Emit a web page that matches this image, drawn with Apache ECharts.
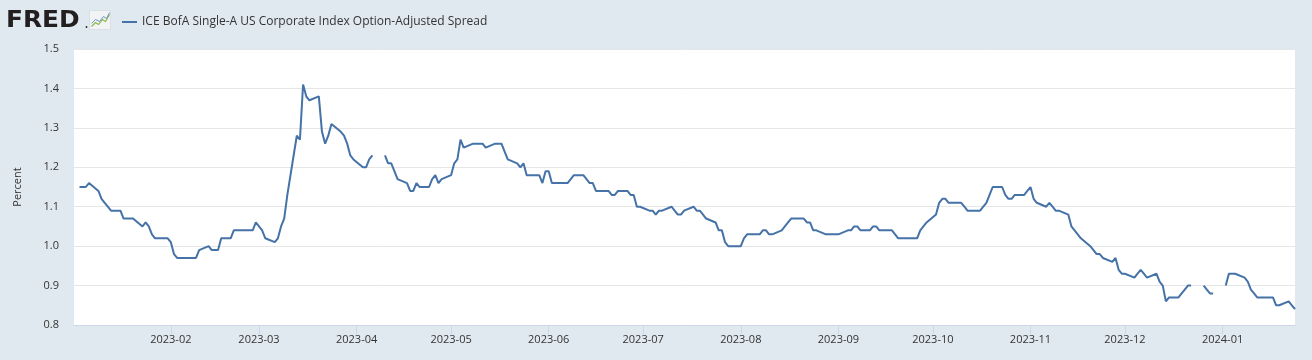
<!DOCTYPE html>
<html>
<head>
<meta charset="utf-8">
<script src="https://cdn.jsdelivr.net/npm/echarts@6/dist/echarts.min.js"></script>
<style>
  html, body { margin: 0; padding: 0; background: #e1e9f0; }
  #chart { width: 1312px; height: 360px; }
</style>
</head>
<body>
<div id="chart"></div>
<script>
// ---- Data (ICE BofA Single-A US Corporate Index OAS, percent, business days) ----
const seriesName = 'ICE BofA Single-A US Corporate Index Option-Adjusted Spread';
const yTicks = [0.8, 0.9, 1.0, 1.1, 1.2, 1.3, 1.4, 1.5];
const axisStart = [2023, 1, 1, 6];   // year, month, day, hour
const axisEnd = [2024, 1, 24, 0];

// month start (first listed weekday) -> values for each consecutive weekday of that month
const monthStarts = ['2023-01-03','2023-02-01','2023-03-01','2023-04-03','2023-05-01','2023-06-01',
                     '2023-07-03','2023-08-01','2023-09-01','2023-10-02','2023-11-01','2023-12-01','2024-01-01'];
const jan23 = [1.15,1.15,1.15,1.16, 1.14,1.12,1.11,1.10,1.09, 1.09,1.07,1.07,1.07,1.07, 1.05,1.06,1.05,1.03,1.02, 1.02,1.02];
const feb23 = [1.01,0.98,0.97, 0.97,0.97,0.97,0.97,0.99, 1.00,0.99,0.99,0.99,1.02, 1.02,1.04,1.04,1.04,1.04, 1.04,1.06];
const mar23 = [1.05,1.04,1.02, 1.01,1.02,1.05,1.07,1.13, 1.28,1.27,1.41,1.38,1.37, 1.38,1.29,1.26,1.28,1.31, 1.29,1.28,1.26,1.23,1.22];
const apr23 = [1.20,1.20,1.22,1.23,null, 1.23,1.21,1.21,1.19,1.17, 1.16,1.14,1.14,1.16,1.15, 1.15,1.17,1.18,1.16,1.17];
const may23 = [1.18,1.21,1.22,1.27,1.25, 1.26,1.26,1.26,1.26,1.25, 1.26,1.26,1.26,1.24,1.22, 1.21,1.20,1.21,1.18,1.18, 1.18,1.16,1.19];
const jun23 = [1.19,1.16, 1.16,1.16,1.16,1.17,1.18, 1.18,1.17,1.16,1.16,1.14, 1.14,1.14,1.13,1.13,1.14, 1.14,1.13,1.13,1.10,1.10];
const jul23 = [1.09,1.09,1.08,1.09,1.09, 1.10,1.09,1.08,1.08,1.09, 1.10,1.09,1.09,1.08,1.07, 1.06,1.04,1.04,1.01,1.00, 1.00];
const aug23 = [1.00,1.02,1.03,1.03, 1.03,1.04,1.04,1.03,1.03, 1.04,1.05,1.06,1.07,1.07, 1.07,1.06,1.06,1.04,1.04, 1.03,1.03,1.03,1.03];
const sep23 = [1.03, 1.04,1.04,1.05,1.05,1.04, 1.04,1.05,1.05,1.04,1.04, 1.04,1.03,1.02,1.02,1.02, 1.02,1.02,1.04,1.05,1.06];
const oct23 = [1.08,1.11,1.12,1.12,1.11, 1.11,1.11,1.10,1.09,1.09, 1.09,1.10,1.11,1.13,1.15, 1.15,1.13,1.12,1.12,1.13, 1.13,1.14];
const nov23 = [1.15,1.12,1.11, 1.10,1.11,1.10,1.09,1.09, 1.08,1.05,1.04,1.03,1.02, 1.00,0.99,0.98,0.98,0.97, 0.96,0.97,0.94,0.93];
const dec23 = [0.93, 0.92,0.93,0.94,0.93,0.92, 0.93,0.91,0.90,0.86,0.87, 0.87,0.88,0.89,0.90,0.90, null,0.90,0.89,0.88,0.88];
const jan24 = [null,0.90,0.93,0.93,0.93, 0.92,0.91,0.89,0.88,0.87, 0.87,0.87,0.87,0.85,0.85, 0.86,0.85,0.84];
const monthValues = [jan23, feb23, mar23, apr23, may23, jun23, jul23, aug23, sep23, oct23, nov23, dec23, jan24];

// ---- Build [date, value] pairs: consecutive weekdays from each month start ----
function pad(n) { return (n < 10 ? '0' : '') + n; }
const points = [];
monthStarts.forEach(function (start, mi) {
  const p = start.split('-').map(Number);
  const d = new Date(p[0], p[1] - 1, p[2]);
  monthValues[mi].forEach(function (v) {
    while (d.getDay() === 0 || d.getDay() === 6) d.setDate(d.getDate() + 1);
    const ds = d.getFullYear() + '-' + pad(d.getMonth() + 1) + '-' + pad(d.getDate());
    points.push([ds, v === null ? '-' : v]);
    d.setDate(d.getDate() + 1);
  });
});

const FONT = "'Open Sans', 'Liberation Sans', sans-serif";
const chart = echarts.init(document.getElementById('chart'), null, { renderer: 'canvas' });
chart.setOption({
  animation: false,
  backgroundColor: '#e1e9f0',
  textStyle: { fontFamily: FONT },
  grid: { left: 74, right: 17, top: 49, bottom: 35, show: true, backgroundColor: '#ffffff', borderWidth: 0 },
  legend: {
    left: 117, top: 11, icon: 'rect', itemWidth: 15, itemHeight: 2,
    textStyle: { fontFamily: FONT, fontSize: 12, color: '#333333' },
    data: [seriesName]
  },
  graphic: [
    {
      type: 'text', left: 6, top: 10, scaleX: 1.08, originX: 0,
      style: { text: 'FRED', font: "bold 23px 'DejaVu Sans', sans-serif", fill: '#231f20' }
    },
    { type: 'circle', shape: { cx: 86.5, cy: 27, r: 0.9 }, style: { fill: '#231f20' } },
    {
      type: 'group', left: 89, top: 10,
      children: [
        { type: 'rect', shape: { x: 0, y: 0, width: 21, height: 19 }, style: { fill: '#f1f3f4', stroke: '#cfd6dc', lineWidth: 0.6 } },
        { type: 'polyline', shape: { points: [[2,16],[6,12],[9,14],[13,9],[16,11],[20,4]] }, style: { stroke: '#8ab84a', lineWidth: 1.2, fill: null } },
        { type: 'polyline', shape: { points: [[2,13],[6,9],[10,11],[14,6],[17,8],[20,2]] }, style: { stroke: '#6d95c4', lineWidth: 1, fill: null } }
      ]
    }
  ],
  xAxis: {
    type: 'time',
    min: new Date(axisStart[0], axisStart[1] - 1, axisStart[2], axisStart[3]).getTime(),
    max: new Date(axisEnd[0], axisEnd[1] - 1, axisEnd[2], axisEnd[3]).getTime(),
    splitNumber: 13,
    axisLine: { show: true, lineStyle: { color: '#ccd6eb', width: 1 } },
    axisTick: { show: true, length: 9, lineStyle: { color: '#ccd6eb', width: 1 } },
    splitLine: { show: false },
    axisLabel: {
      showMinLabel: false,
      margin: 9,
      fontFamily: FONT, fontSize: 11, color: '#333333',
      formatter: function (val) {
        const d = new Date(val);
        return d.getFullYear() + '-' + pad(d.getMonth() + 1);
      }
    }
  },
  yAxis: {
    type: 'value',
    min: yTicks[0],
    max: yTicks[yTicks.length - 1],
    interval: 0.1,
    name: 'Percent',
    nameLocation: 'middle',
    nameRotate: 90,
    nameGap: 51,
    nameTextStyle: { fontFamily: FONT, fontSize: 11, color: '#333333' },
    axisLine: { show: false },
    axisTick: { show: false },
    splitLine: { show: true, lineStyle: { color: '#e6e6e6', width: 1 } },
    axisLabel: {
      margin: 15,
      fontFamily: FONT, fontSize: 11, color: '#333333',
      formatter: function (v) { return v.toFixed(1); }
    }
  },
  series: [{
    name: seriesName,
    type: 'line',
    data: points,
    showSymbol: false,
    symbol: 'none',
    connectNulls: false,
    color: '#4572a7',
    lineStyle: { color: '#4572a7', width: 2 }
  }]
});
</script>
</body>
</html>
